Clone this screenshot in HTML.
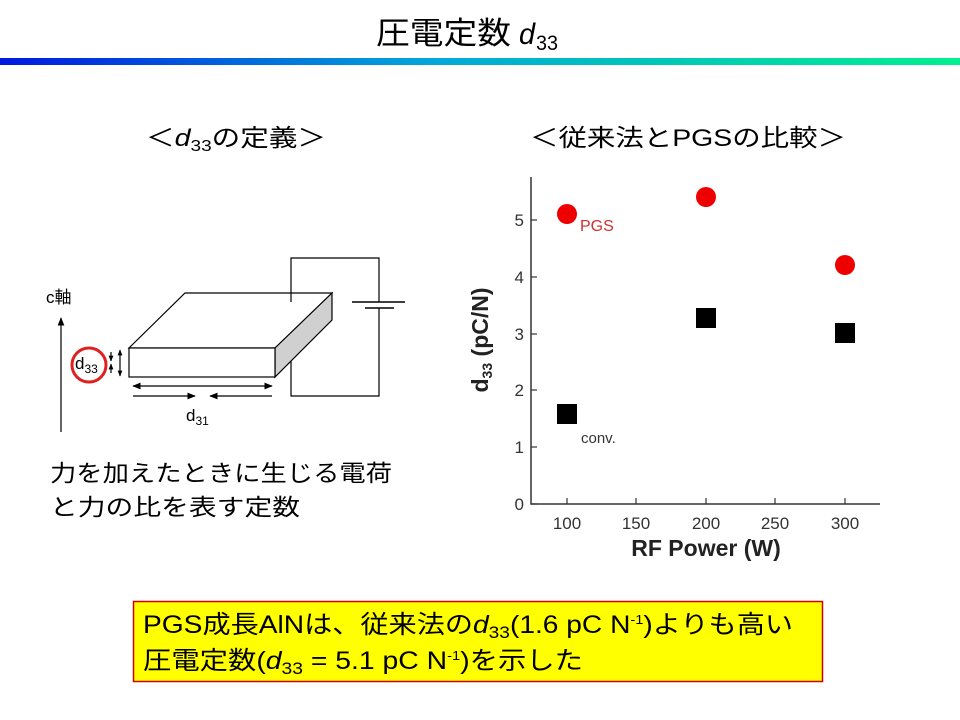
<!DOCTYPE html>
<html><head><meta charset="utf-8"><style>
html,body{margin:0;padding:0;background:#fff;}
svg{display:block;}
text{font-family:"Liberation Sans","Noto Sans CJK JP",sans-serif;}
</style></head><body>
<svg width="960" height="720" viewBox="0 0 960 720" xmlns="http://www.w3.org/2000/svg">
<defs>
<linearGradient id="g" x1="0" x2="1" y1="0" y2="0">
<stop offset="0" stop-color="#0018e0"/><stop offset="0.45" stop-color="#00a8d8"/><stop offset="1" stop-color="#00f090"/>
</linearGradient>
<marker id="ah" viewBox="0 0 10 10" refX="9" refY="5" markerWidth="7" markerHeight="7" orient="auto-start-reverse"><path d="M0,1 L10,5 L0,9 z" fill="#000"/></marker>
<marker id="as" viewBox="0 0 10 10" refX="9" refY="5" markerWidth="5" markerHeight="5" orient="auto-start-reverse"><path d="M0,1 L10,5 L0,9 z" fill="#000"/></marker>
</defs>
<rect width="960" height="720" fill="#fff"/>
<!-- title -->
<text x="376" y="44" font-size="31" textLength="135" lengthAdjust="spacingAndGlyphs">圧電定数</text>
<text x="519" y="44" font-size="30" font-style="italic" textLength="16" lengthAdjust="spacingAndGlyphs">d</text>
<text x="536" y="50" font-size="21" textLength="22" lengthAdjust="spacingAndGlyphs">33</text>
<rect x="0" y="58" width="960" height="7" fill="url(#g)"/>

<!-- headings -->
<text x="146" y="146" font-size="24" textLength="180" lengthAdjust="spacingAndGlyphs">＜<tspan font-style="italic">d</tspan><tspan font-size="16" dy="5">33</tspan><tspan dy="-5">の定義＞</tspan></text>
<text x="530" y="146" font-size="24" textLength="316" lengthAdjust="spacingAndGlyphs">＜従来法とPGSの比較＞</text>

<!-- diagram -->
<text x="46" y="303" font-size="17">c軸</text>
<line x1="61" y1="432" x2="61" y2="318" stroke="#000" stroke-width="1.2" marker-end="url(#ah)"/>
<polyline points="291,302 291,258 379,258 379,302" fill="none" stroke="#000" stroke-width="1.2"/>
<line x1="352" y1="302" x2="405" y2="302" stroke="#000" stroke-width="1.5"/>
<line x1="365" y1="308" x2="394" y2="308" stroke="#000" stroke-width="1.5"/>
<polyline points="379,308 379,396 291,396 291,360" fill="none" stroke="#000" stroke-width="1.2"/>
<polygon points="129,348 185,293 332,293 275,348" fill="#fff" stroke="#000" stroke-width="1.2"/>
<polygon points="275,348 332,293 332,320 275,377" fill="#d0d0d0" stroke="#000" stroke-width="1.2"/>
<rect x="129" y="348" width="146" height="29" fill="#fff" stroke="#000" stroke-width="1.2"/>
<line x1="291" y1="293" x2="291" y2="302" stroke="#000" stroke-width="1.2"/>
<line x1="120" y1="350" x2="120" y2="376" stroke="#000" stroke-width="1.2" marker-start="url(#as)" marker-end="url(#as)"/>
<line x1="111" y1="352" x2="111" y2="361" stroke="#000" stroke-width="1.2" marker-end="url(#as)"/>
<line x1="111" y1="373" x2="111" y2="364" stroke="#000" stroke-width="1.2" marker-end="url(#as)"/>
<line x1="133" y1="386" x2="272" y2="386" stroke="#000" stroke-width="1.2" marker-start="url(#ah)" marker-end="url(#ah)"/>
<line x1="133" y1="396" x2="195" y2="396" stroke="#000" stroke-width="1.2" marker-end="url(#ah)"/>
<line x1="272" y1="396" x2="210" y2="396" stroke="#000" stroke-width="1.2" marker-end="url(#ah)"/>
<text x="186" y="421" font-size="17">d<tspan font-size="12" dy="4">31</tspan></text>
<circle cx="89" cy="365" r="17" fill="none" stroke="#e02020" stroke-width="3"/>
<text x="75" y="369" font-size="17">d<tspan font-size="12" dy="4">33</tspan></text>

<text x="50" y="481" font-size="23" textLength="342" lengthAdjust="spacingAndGlyphs">力を加えたときに生じる電荷</text>
<text x="50" y="515" font-size="23" textLength="250" lengthAdjust="spacingAndGlyphs">と力の比を表す定数</text>

<!-- chart -->
<polyline points="531,177 531,504 880,504" stroke="#333" stroke-width="1.5" fill="none"/>
<g stroke="#333" stroke-width="1.2">
<line x1="531" y1="504" x2="537" y2="504"/>
<line x1="531" y1="447" x2="537" y2="447"/>
<line x1="531" y1="390" x2="537" y2="390"/>
<line x1="531" y1="334" x2="537" y2="334"/>
<line x1="531" y1="277" x2="537" y2="277"/>
<line x1="531" y1="220" x2="537" y2="220"/>
<line x1="567" y1="504" x2="567" y2="498"/>
<line x1="636" y1="504" x2="636" y2="498"/>
<line x1="706" y1="504" x2="706" y2="498"/>
<line x1="775" y1="504" x2="775" y2="498"/>
<line x1="845" y1="504" x2="845" y2="498"/>
</g>
<g font-size="17" fill="#333" text-anchor="end">
<text x="524" y="510">0</text><text x="524" y="453">1</text><text x="524" y="396">2</text>
<text x="524" y="340">3</text><text x="524" y="283">4</text><text x="524" y="226">5</text>
</g>
<g font-size="17" fill="#333" text-anchor="middle">
<text x="567" y="529">100</text><text x="636" y="529">150</text><text x="706" y="529">200</text>
<text x="775" y="529">250</text><text x="845" y="529">300</text>
</g>
<text x="706" y="556" font-size="23" font-weight="bold" fill="#222" text-anchor="middle">RF Power (W)</text>
<text transform="translate(488,340) rotate(-90)" font-size="23" font-weight="bold" fill="#222" text-anchor="middle">d<tspan font-size="14" dy="4">33</tspan><tspan dy="-4"> (pC/N)</tspan></text>
<circle cx="567" cy="214" r="10" fill="#ee0000"/>
<circle cx="706" cy="197" r="10" fill="#ee0000"/>
<circle cx="845" cy="265" r="10" fill="#ee0000"/>
<text x="580" y="231" font-size="16" fill="#d03030">PGS</text>
<rect x="557" y="404" width="20" height="20" fill="#000"/>
<rect x="696" y="308" width="20" height="20" fill="#000"/>
<rect x="835" y="323" width="20" height="20" fill="#000"/>
<text x="581" y="443" font-size="15" fill="#333">conv.</text>

<!-- conclusion box -->
<rect x="133.5" y="601.5" width="689" height="80" fill="#ffff00" stroke="#d00000" stroke-width="1.5"/>
<text x="143" y="633" font-size="25" textLength="650" lengthAdjust="spacingAndGlyphs">PGS成長AlNは、従来法の<tspan font-style="italic">d</tspan><tspan font-size="17" dy="5">33</tspan><tspan dy="-5">(1.6 pC N</tspan><tspan font-size="13" dy="-9">-1</tspan><tspan dy="9">)よりも高い</tspan></text>
<text x="143" y="669" font-size="25" textLength="440" lengthAdjust="spacingAndGlyphs">圧電定数(<tspan font-style="italic">d</tspan><tspan font-size="17" dy="5">33</tspan><tspan dy="-5"> = 5.1 pC N</tspan><tspan font-size="13" dy="-9">-1</tspan><tspan dy="9">)を示した</tspan></text>
</svg>
</body></html>
